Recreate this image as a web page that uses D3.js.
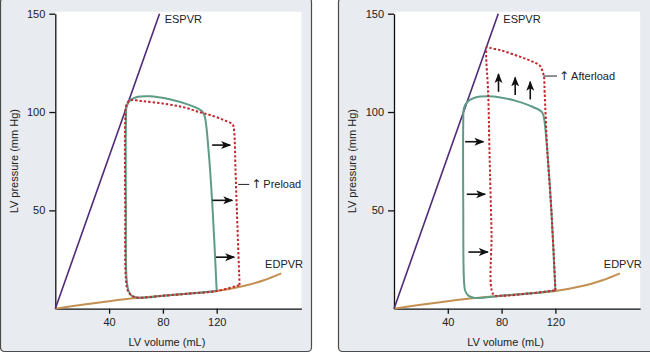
<!DOCTYPE html>
<html lang="en">
<head>
<meta charset="UTF-8">
<title>Pressure-volume loops: preload and afterload</title>
<script src="https://cdnjs.cloudflare.com/ajax/libs/d3/7.8.5/d3.min.js"></script>
<style>
    body { margin: 0; background: #fff; }
    svg { display: block; font-family: "Liberation Sans", Arial, sans-serif; }
    .tick text { font-size: 11px; fill: #222; }
    .axis path, .axis line { stroke: #111; stroke-width: 1.3; }
    .lbl { font-size: 11px; fill: #222; }
</style>
</head>
<body>
<svg id="chart" width="650" height="354"></svg>
<script>
// ---- data (volume mL, pressure mm Hg) ----
const yTicks = [50, 100, 150];
const xTicks = [40, 80, 120];

const espvr = [[0, 0], [77.5, 150]];
const edpvr = [[0, 0], [20, 2], [40, 3.8], [60, 5.4], [80, 6.6], [100, 7.7], [120, 9],
               [140, 11.5], [155, 14.5], [168, 18]];

// left panel: increased preload
const controlLeft = [[120, 9], [117, 50], [114, 80], [111, 98], [109, 100.5], [100, 103.5],
    [85, 106.5], [70, 108], [60, 107.5], [55, 105.5], [53, 103], [52.5, 95], [52.5, 50],
    [53, 15], [54.5, 9], [57, 6.5], [62, 5.6], [80, 6.6], [100, 7.7], [120, 9]];
const preloadLoop = [[137, 12], [135, 50], [134, 70], [133, 90], [132, 93.5], [125, 96],
    [115, 98.5], [107, 100], [95, 102.5], [80, 104.3], [65, 105.5], [56, 106], [53, 104],
    [52, 95], [52, 50], [52.5, 15], [54, 9], [57, 6.5], [62, 5.6], [80, 6.6], [100, 7.7],
    [120, 9], [137, 12]];
const preloadArrows = [[[116.6, 83.2], [130, 83.2]], [[116.8, 55.1], [131.6, 55.1]],
                       [[119.5, 26.2], [133, 26.2]]];

// right panel: increased afterload
const controlRight = [[120, 9.3], [117, 50], [114, 80], [111.5, 97], [110, 100], [100, 103.5],
    [90, 105.8], [80, 107.3], [70, 108], [60, 107.3], [55, 105.5], [52, 102], [51.5, 95],
    [51.5, 50], [52, 15], [53, 9], [55.5, 6.5], [60, 5.5], [80, 6.6], [100, 7.7], [120, 9.3]];
const afterloadLoop = [[120, 9.3], [117, 50], [114, 80], [112, 110], [111.5, 118], [110.5, 120.5],
    [108.5, 123.5], [100, 126.5], [90, 129], [80, 131.3], [72, 132.5], [69, 133], [68.5, 130],
    [70, 110], [71, 80], [72.5, 40], [74, 7.2], [80, 6.6], [100, 7.7], [120, 9.3]];
const afterloadArrows = [[[52.9, 84.9], [66.5, 84.9]], [[54.1, 58.2], [67.8, 58.2]],
    [[55.3, 28.8], [69.8, 28.8]], [[77.7, 110.3], [77.7, 119.3]], [[90.1, 108.6], [90.1, 117.6]],
    [[101.3, 106.4], [101.3, 115.4]]];

const panels = [
    { frameX: 0.5, frameW: 311, x0: 55.3, control: controlLeft, loop: preloadLoop,
      arrows: preloadArrows, note: "Preload", noteAt: [136, 144.2, 63.2] },
    { frameX: 338.5, frameW: 316, x0: 394, control: controlRight, loop: afterloadLoop,
      arrows: afterloadArrows, note: "Afterload", noteAt: [111, 121.2, 118.3] }
];

const svg = d3.select("#chart");

svg.append("defs").append("marker")
    .attr("id", "head")
    .attr("viewBox", "0 0 10 10")
    .attr("refX", 9).attr("refY", 5)
    .attr("markerWidth", 10).attr("markerHeight", 10)
    .attr("markerUnits", "userSpaceOnUse")
    .attr("orient", "auto")
    .append("path")
    .attr("d", "M0,1 L10,5 L0,9 L2.5,5 Z")
    .attr("fill", "#111");

panels.forEach(p => {
    const g = svg.append("g");

    // panel frame
    g.append("rect")
        .attr("x", p.frameX).attr("y", -2)
        .attr("width", p.frameW).attr("height", 353.5)
        .attr("rx", 4)
        .attr("fill", "#e8ebef")
        .attr("stroke", "#4a4a4a")
        .attr("stroke-width", 1.2);

    const x = d3.scaleLinear().domain([0, 183]).range([p.x0, p.x0 + 183 * 1.345]);
    const y = d3.scaleLinear().domain([0, 150]).range([308.7, 13.7]);

    // white plot area
    g.append("rect")
        .attr("x", x(0)).attr("y", y(151))
        .attr("width", x(183) - x(0))
        .attr("height", y(0) - y(151))
        .attr("fill", "#fff");

    const line = d3.line().x(d => x(d[0])).y(d => y(d[1]));
    const smooth = d3.line().x(d => x(d[0])).y(d => y(d[1])).curve(d3.curveCatmullRom.alpha(0.5));

    // axes
    g.append("g")
        .attr("class", "axis")
        .attr("transform", `translate(${x(0)},0)`)
        .call(d3.axisLeft(y).tickValues(yTicks).tickSize(6).tickSizeOuter(0).tickPadding(4));
    g.append("g")
        .attr("class", "axis")
        .attr("transform", `translate(0,${y(0)})`)
        .call(d3.axisBottom(x).tickValues(xTicks).tickSize(5).tickSizeOuter(0).tickPadding(5));

    g.append("text")
        .attr("class", "lbl")
        .attr("transform", `translate(${p.frameX + 17},${(y(0) + y(150)) / 2}) rotate(-90)`)
        .attr("text-anchor", "middle")
        .text("LV pressure (mm Hg)");
    g.append("text")
        .attr("class", "lbl")
        .attr("x", x(83)).attr("y", 346)
        .attr("text-anchor", "middle")
        .text("LV volume (mL)");

    // EDPVR and ESPVR
    g.append("path").attr("d", smooth(edpvr))
        .attr("fill", "none").attr("stroke", "#c48f52").attr("stroke-width", 2);
    g.append("path").attr("d", line(espvr))
        .attr("fill", "none").attr("stroke", "#4f2a78").attr("stroke-width", 1.6);
    g.append("text").attr("class", "lbl")
        .attr("x", x(81.3)).attr("y", y(150) + 9).text("ESPVR");
    g.append("text").attr("class", "lbl")
        .attr("x", x(156)).attr("y", y(22.6) + 4).text("EDPVR");

    // loops
    g.append("path").attr("d", smooth(p.control))
        .attr("fill", "none").attr("stroke", "#5e9c86").attr("stroke-width", 2);
    g.append("path").attr("d", smooth(p.loop))
        .attr("fill", "none").attr("stroke", "#c1272d").attr("stroke-width", 2)
        .attr("stroke-dasharray", "2.4,2");

    // arrows
    p.arrows.forEach(a => {
        g.append("path").attr("d", line(a))
            .attr("stroke", "#111").attr("stroke-width", 1.6)
            .attr("marker-end", "url(#head)");
    });

    // note
    const [v1, v2, pr] = p.noteAt;
    g.append("line")
        .attr("x1", x(v1)).attr("x2", x(v2))
        .attr("y1", y(pr)).attr("y2", y(pr))
        .attr("stroke", "#222").attr("stroke-width", 1);
    const note = g.append("text").attr("class", "lbl")
        .attr("x", x(v2) + 2).attr("y", y(pr) + 4);
    note.append("tspan")
        .style("font-family", "'DejaVu Sans', sans-serif")
        .style("font-size", "12px")
        .text("\u2191");
    note.append("tspan").attr("dx", 2).text(p.note);
});
</script>
</body>
</html>
